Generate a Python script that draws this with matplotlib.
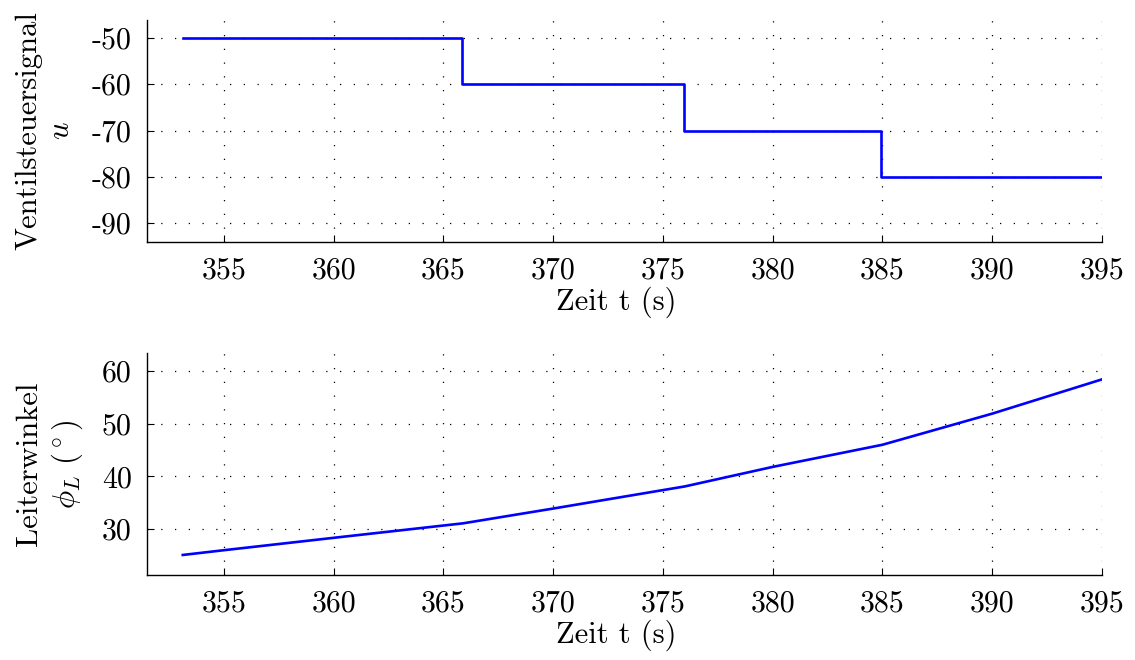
import matplotlib
matplotlib.use("Agg")
import matplotlib.pyplot as plt

# Data
t_u = [353.13, 365.85, 365.85, 375.95, 375.95, 384.95, 384.95, 395.0]
u = [-50, -50, -60, -60, -70, -70, -80, -80]

t_phi = [353.13, 355, 360, 365.9, 370, 375, 376, 380, 385, 390, 395]
phi = [25.1, 26.0, 28.35, 31.1, 33.9, 37.4, 38.1, 41.8, 46.0, 51.9, 58.4]

xticks = [355, 360, 365, 370, 375, 380, 385, 390, 395]
uticks = [-90, -80, -70, -60, -50]
phiticks = [30, 40, 50, 60]

plt.rcParams['font.family'] = ['cmr10', 'DejaVu Serif']
plt.rcParams['mathtext.fontset'] = 'cm'
plt.rcParams['axes.unicode_minus'] = False
plt.rcParams['axes.formatter.use_mathtext'] = True

fs = 22
tfs = 21.5
fig = plt.figure(figsize=(11.35, 6.6), dpi=100)
ax1 = fig.add_axes([147/1135, 1-242/660, (1102-147)/1135, (242-20)/660])
ax2 = fig.add_axes([147/1135, 1-575/660, (1102-147)/1135, (575-353)/660])

grid_kw = dict(color='black', linestyle=(0, (1, 10)), linewidth=0.9)

for ax in (ax1, ax2):
    ax.set_xlim(351.5, 395)
    ax.set_xticks(xticks)
    ax.set_xticklabels([str(v) for v in xticks], fontsize=tfs)
    ax.spines['top'].set_visible(False)
    ax.spines['right'].set_visible(False)
    ax.spines['left'].set_linewidth(1.0)
    ax.spines['bottom'].set_linewidth(1.0)
    ax.tick_params(direction='in', length=5, width=0.8, pad=11)
    ax.grid(True, **grid_kw)
    ax.set_axisbelow(True)
    ax.set_xlabel('Zeit t (s)', fontsize=fs, labelpad=5)
    ax.xaxis.set_label_coords(0.491, -0.2, transform=ax.transAxes)
    ax.xaxis.label.set_verticalalignment('top')

ax1.plot(t_u, u, color='#0000ff', linewidth=1.9)
ax1.set_ylim(-94.1, -46.1)
ax1.set_yticks(uticks)
ax1.set_yticklabels([str(v) for v in uticks], fontsize=tfs)
ax1.set_ylabel('Ventilsteuersignal\n$u$', fontsize=fs, linespacing=1.25, labelpad=12)

ax2.plot(t_phi, phi, color='#0000ff', linewidth=1.9)
ax2.set_ylim(21.3, 63.4)
ax2.set_yticks(phiticks)
ax2.set_yticklabels([str(v) for v in phiticks], fontsize=tfs)
ax2.set_ylabel('Leiterwinkel\n$\\phi_L$ $(^\\circ)$', fontsize=fs, linespacing=1.25, labelpad=12)

fig.savefig('out.png', dpi=100)
